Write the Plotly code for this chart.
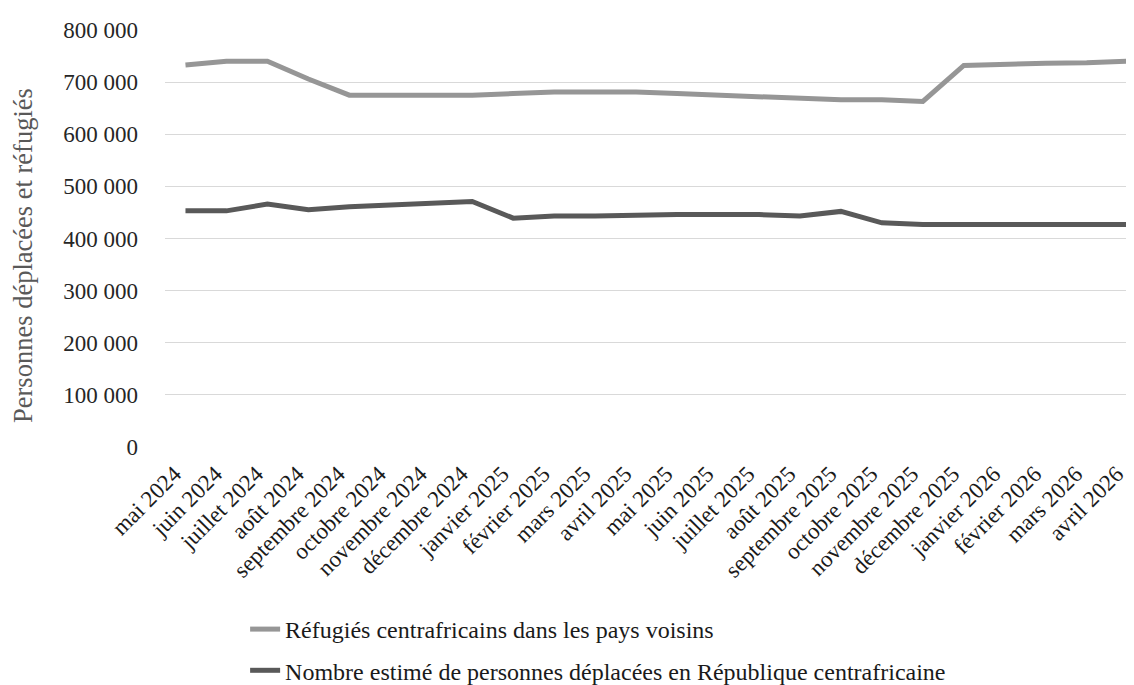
import plotly.graph_objects as go

mois = ["mai 2024", "juin 2024", "juillet 2024", "août 2024", "septembre 2024",
        "octobre 2024", "novembre 2024", "décembre 2024", "janvier 2025",
        "février 2025", "mars 2025", "avril 2025", "mai 2025", "juin 2025",
        "juillet 2025", "août 2025", "septembre 2025", "octobre 2025",
        "novembre 2025", "décembre 2025", "janvier 2026", "février 2026",
        "mars 2026", "avril 2026"]

refugies = [733000, 740000, 740000, 706000, 675000, 675000, 675000, 675000,
            678000, 681000, 681000, 681000, 678000, 675000, 672000, 669000,
            666000, 666000, 663000, 732000, 735000, 736000, 737000, 740000]

deplaces = [453000, 453000, 466000, 455000, 461000, 464000, 468000, 471000,
            439000, 443000, 443000, 445000, 446000, 446000, 446000, 443000,
            452000, 430000, 427000, 427000, 427000, 427000, 427000, 427000]

nom_refugies = "Réfugiés centrafricains dans les pays voisins"
nom_deplaces = "Nombre estimé de personnes déplacées en République centrafricaine"
titre_y = "Personnes déplacées et réfugiés"

FONT = "Liberation Serif, Times New Roman, serif"

fig = go.Figure()
fig.add_trace(go.Scatter(x=mois, y=refugies, mode="lines", name=nom_refugies,
                         legendgroup="a",
                         line=dict(color="#969696", width=5)))
fig.add_trace(go.Scatter(x=mois, y=deplaces, mode="lines", name=nom_deplaces,
                         legendgroup="b",
                         line=dict(color="#595959", width=5)))

fig.add_annotation(text=titre_y, xref="paper", yref="paper",
                   x=-0.146, y=0.459, xanchor="center", yanchor="middle",
                   textangle=-90, showarrow=False,
                   font=dict(family=FONT, size=26.5, color="#595959"))

fig.update_layout(
    width=1134, height=685,
    margin=dict(l=157, r=0, t=22, b=238),
    paper_bgcolor="white", plot_bgcolor="white",
    separators=", ",
    font=dict(family=FONT, size=23, color="#262626"),
    showlegend=True,
    legend=dict(x=0.082, y=-0.385, xanchor="left", yanchor="top",
                orientation="v", tracegroupgap=7,
                font=dict(family=FONT, size=24, color="#1a1a1a"),
                bgcolor="rgba(0,0,0,0)"),
    xaxis=dict(type="category", range=[-0.5, 23.35], tickangle=-45,
               showgrid=False, showline=False, zeroline=False,
               ticks="", ticklabelstandoff=8, ticklabelshift=-11,
               tickfont=dict(family=FONT, size=23, color="#1a1a1a")),
    yaxis=dict(range=[0, 800000], dtick=100000, tickformat=",d",
               showgrid=True, gridcolor="#d9d9d9", gridwidth=1,
               zeroline=False, showline=False, ticks="",
               ticklabelstandoff=26,
               tickfont=dict(family=FONT, size=23, color="#262626")),
)

fig.write_html("out.html")
